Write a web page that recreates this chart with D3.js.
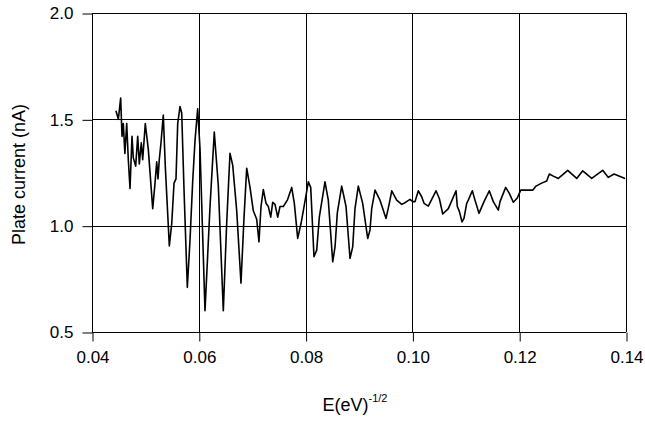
<!DOCTYPE html>
<html>
<head>
<meta charset="utf-8">
<script src="https://cdn.jsdelivr.net/npm/d3@7"></script>
<style>
  body { margin: 0; background: #fff; }
  svg { display: block; font-family: "Liberation Sans", Arial, sans-serif; }
</style>
</head>
<body>
<svg id="chart" width="645" height="422"></svg>
<script>
// E^-1/2 values (x) and plate current in nA (y)
var xVals = [0.04449, 0.04493, 0.04537, 0.04562, 0.04586, 0.04616, 0.04650, 0.04680, 0.04712, 0.04749,
  0.04773, 0.04818, 0.04856, 0.04886, 0.04923, 0.04949, 0.04998, 0.05054, 0.05137, 0.05180,
  0.05212, 0.05236, 0.05260, 0.05292, 0.05335, 0.05373, 0.05448, 0.05493, 0.05536, 0.05573,
  0.05605, 0.05648, 0.05680, 0.05723, 0.05785, 0.05835, 0.05886, 0.05929, 0.05979, 0.06023,
  0.06116, 0.06210, 0.06290, 0.06365, 0.06459, 0.06522, 0.06584, 0.06635, 0.06710, 0.06790,
  0.06847, 0.06897, 0.06959, 0.07021, 0.07084, 0.07127, 0.07165, 0.07208, 0.07259, 0.07302,
  0.07347, 0.07384, 0.07427, 0.07478, 0.07521, 0.07583, 0.07658, 0.07740, 0.07789, 0.07852,
  0.07914, 0.07957, 0.08051, 0.08096, 0.08157, 0.08208, 0.08257, 0.08363, 0.08425, 0.08508,
  0.08551, 0.08594, 0.08676, 0.08757, 0.08832, 0.08882, 0.08925, 0.08987, 0.09069, 0.09163,
  0.09206, 0.09238, 0.09300, 0.09393, 0.09506, 0.09568, 0.09613, 0.09706, 0.09800, 0.09862,
  0.09955, 0.10006, 0.10049, 0.10111, 0.10174, 0.10218, 0.10298, 0.10442, 0.10504, 0.10568,
  0.10673, 0.10817, 0.10841, 0.10879, 0.10929, 0.10966, 0.11017, 0.11047, 0.11122, 0.11172,
  0.11247, 0.11341, 0.11440, 0.11515, 0.11609, 0.11641, 0.11747, 0.11815, 0.11890, 0.11965,
  0.12028, 0.12253, 0.12315, 0.12421, 0.12515, 0.12564, 0.12639, 0.12733, 0.12909, 0.13077,
  0.13190, 0.13358, 0.13564, 0.13669, 0.13776, 0.13982];
var current = [1.54, 1.50, 1.60, 1.42, 1.48, 1.34, 1.48, 1.31, 1.175, 1.42,
  1.32, 1.28, 1.42, 1.29, 1.39, 1.31, 1.48, 1.36, 1.08, 1.20,
  1.30, 1.22, 1.31, 1.39, 1.52, 1.277, 0.905, 1.01, 1.20, 1.22,
  1.48, 1.56, 1.53, 1.17, 0.71, 0.93, 1.21, 1.40, 1.55, 1.36,
  0.60, 1.09, 1.44, 1.19, 0.60, 1.01, 1.34, 1.285, 1.07, 0.73,
  1.04, 1.27, 1.18, 1.07, 1.03, 0.924, 1.09, 1.17, 1.105, 1.09,
  1.04, 1.11, 1.10, 1.04, 1.09, 1.09, 1.12, 1.18, 1.105, 0.94,
  1.01, 1.07, 1.206, 1.18, 0.854, 0.885, 1.04, 1.206, 1.12, 0.83,
  0.90, 1.06, 1.186, 1.09, 0.846, 0.90, 1.08, 1.186, 1.105, 0.94,
  0.98, 1.08, 1.167, 1.12, 1.034, 1.105, 1.164, 1.12, 1.10, 1.108,
  1.124, 1.113, 1.113, 1.164, 1.136, 1.105, 1.092, 1.164, 1.128, 1.055,
  1.08, 1.164, 1.09, 1.067, 1.018, 1.034, 1.105, 1.12, 1.164, 1.12,
  1.058, 1.113, 1.164, 1.113, 1.073, 1.113, 1.18, 1.152, 1.11, 1.13,
  1.167, 1.167, 1.186, 1.20, 1.21, 1.243, 1.233, 1.222, 1.26, 1.222,
  1.258, 1.222, 1.26, 1.227, 1.243, 1.222];

var xTicks = [0.04, 0.06, 0.08, 0.10, 0.12, 0.14];
var yTicks = [0.5, 1.0, 1.5, 2.0];

var svg = d3.select('#chart');
var mLeft = 92, mRight = 626, mTop = 13, mBottom = 332;

var x = d3.scaleLinear().domain([0.04, 0.14]).range([mLeft, mRight]);
var y = d3.scaleLinear().domain([0.5, 2.0]).range([mBottom, mTop]);

// grid (also gives the frame)
var grid = svg.append('g').attr('stroke', '#000').attr('stroke-width', 1);
grid.selectAll('.vx').data(xTicks).enter().append('line')
  .attr('x1', d => Math.round(x(d)) + 0.5).attr('x2', d => Math.round(x(d)) + 0.5)
  .attr('y1', mTop).attr('y2', mBottom);
grid.selectAll('.hy').data(yTicks).enter().append('line')
  .attr('x1', mLeft).attr('x2', mRight)
  .attr('y1', d => Math.round(y(d)) + 0.5).attr('y2', d => Math.round(y(d)) + 0.5);

var xAxis = svg.append('g')
  .attr('transform', 'translate(0.5,' + (mBottom + 0.5) + ')')
  .call(d3.axisBottom(x).tickValues(xTicks).tickFormat(d3.format('.2f')).tickSize(9).tickPadding(9));
var yAxis = svg.append('g')
  .attr('transform', 'translate(' + (mLeft + 0.5) + ',0.5)')
  .call(d3.axisLeft(y).tickValues(yTicks).tickFormat(d3.format('.1f')).tickSize(10).tickPadding(9));

[xAxis, yAxis].forEach(function(g){
  g.select('.domain').remove();
  g.selectAll('line').attr('stroke', '#000');
  g.selectAll('text').attr('font-family', '"Liberation Sans", Arial, sans-serif')
    .attr('font-size', '17px').attr('fill', '#000');
});

var pts = xVals.map((d, i) => [d, current[i]]);
svg.append('path')
  .datum(pts)
  .attr('fill', 'none')
  .attr('stroke', '#000')
  .attr('stroke-width', 1.6)
  .attr('stroke-linejoin', 'round')
  .attr('d', d3.line().x(d => x(d[0])).y(d => y(d[1])));

svg.append('text')
  .attr('transform', 'translate(25,' + ((mTop + mBottom) / 2 + 2) + ') rotate(-90)')
  .attr('text-anchor', 'middle')
  .attr('font-size', '18px')
  .text('Plate current (nA)');

var xt = svg.append('text')
  .attr('x', (mLeft + mRight) / 2 - 4)
  .attr('y', 411)
  .attr('text-anchor', 'middle')
  .attr('font-size', '18px')
  .text('E(eV)');
xt.append('tspan').attr('dy', -9).attr('font-size', '11px').text('-1/2');
</script>
</body>
</html>
